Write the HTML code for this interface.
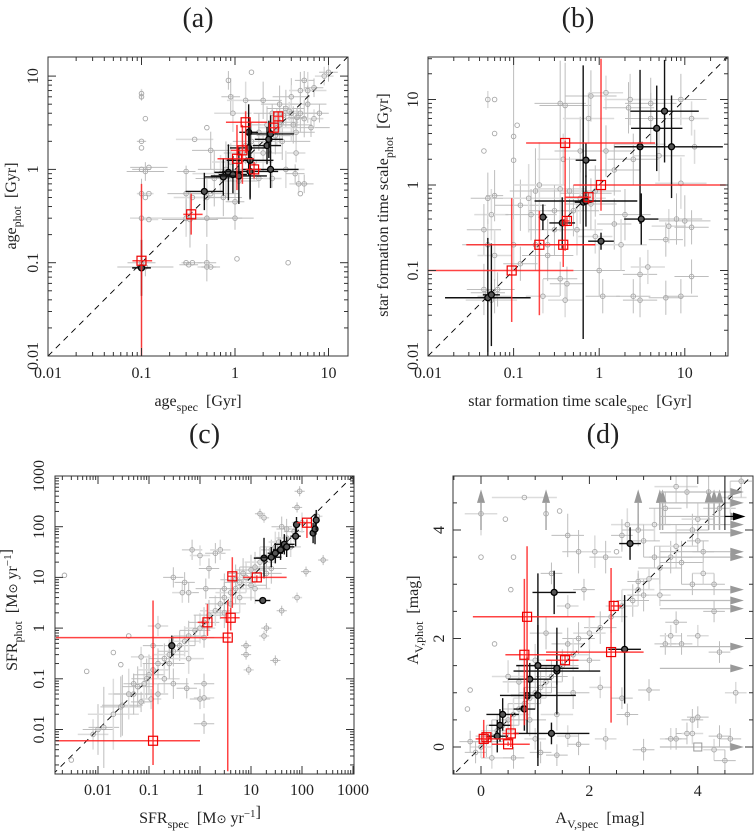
<!DOCTYPE html>
<html><head><meta charset="utf-8"><style>
body{margin:0;background:#fff}
svg{display:block;font-family:"Liberation Serif",serif}
</style></head><body>
<svg id="fig" width="754" height="835" viewBox="0 0 754 835" xmlns="http://www.w3.org/2000/svg"></svg>
<script>
// ---------- DATA ----------
const aGray=[[0.1,6.5,0,0.05],[0.1,6,0,0.04],[0.1,2,0.05,0],[0.1,1.7,0,0],[0.1,1,0.1,0],[0.11,0.95,0.2,0.1],[0.1,0.55,0.05,0],[0.11,0.5,0,0],[0.1,0.3,0.1,0.1],[0.12,0.29,0.1,0],[0.1,0.1,0.15,0.9],[0.11,0.09,0.3,0.1],[0.12,0.55,0.05,0],[0.11,3.5,0,0],[0.12,1.05,0.2,0],[0.3,0.1,0.05,0],[0.32,0.095,0.1,0],[0.35,0.1,0.1,0],[0.3,0.3,0.6,0.2],[0.33,0.29,0.3,0.3],[0.3,0.55,0.2,0.3],[0.35,0.5,0.2,0],[0.3,0.95,0.1,0],[0.5,0.1,0.1,0.2],[0.5,0.09,0.1,0],[0.55,0.09,0.1,0],[0.5,0.3,0.2,0.2],[0.5,0.5,0.2,0.2],[0.55,0.55,0.3,0],[0.5,2.8,0,0],[0.37,2.1,0.2,0],[0.55,1.6,0.2,0.2],[0.6,0.8,0.2,0.3],[0.7,0.9,0.3,0.2],[0.8,1,0.3,0.3],[0.75,0.5,0.2,0.2],[0.9,1.2,0.2,0.2],[0.85,9,0,0.1],[0.9,6,0.1,0.2],[0.95,4,0.2,0.2],[1,0.45,0.1,0.3],[1,0.3,0.2,0],[1.05,0.11,0,0],[1.1,0.75,0.2,0.2],[1.2,1.5,0.2,0.2],[1.3,5.5,0.2,0.2],[1.5,11,0,0],[1.5,2,0.2,0.2],[1.6,1.2,0.2,0.2],[1.8,0.8,0.2,0.1],[2,5.5,0.2,0.2],[2,1.5,0.2,0.2],[2.2,3,0.2,0.2],[2.5,4,0.2,0.1],[2.5,0.8,0.1,0.1],[2.7,2.3,0.2,0.2],[3,5,0.2,0.2],[3,3,0.2,0.2],[3.2,2,0.3,0.2],[3.5,4.5,0.2,0.2],[3.5,1,0.2,0.2],[3.7,0.1,0,0],[4,6,0.2,0.2],[4,4,0.2,0.3],[4.2,3,0.2,0.2],[4.5,2.5,0.2,0.2],[4.5,1.5,0.1,0.1],[5,7,0.1,0.2],[5,4,0.2,0.2],[5,0.55,0,0],[5.5,9,0.1,0.1],[5.5,3.5,0.2,0.2],[6,7,0.2,0.2],[6,5,0.2,0.2],[6.5,2.8,0.2,0.1],[7,3.5,0.1,0.1],[7,7.5,0.1,0.1],[8,4,0.1,0.1],[9,10,0.1,0.1],[10,11,0.1,0.1],[3,3.2,0.2,0.2],[2.8,2.8,0.2,0.2],[1.8,2.5,0.2,0.2],[1.3,1.8,0.2,0.2],[4.8,0.7,0.1,0.1],[4.4,0.9,0.1,0.1],[5.5,0.7,0.1,0.1],[3.8,4.2,0.1,0.1],[4.6,3.6,0.1,0.1],[3.3,3.8,0.1,0.1]];
const aBlack=[[0.1,0.088,0.1,0.3],[0.47,0.58,0.2,0.2],[0.75,0.83,0.2,0.2],[0.85,0.93,0.15,0.3],[0.95,0.88,0.15,0.2],[1.1,0.85,0.3,0.3],[1.4,2.5,0.1,0.3],[1.4,1.7,0.2,0.3],[1.45,1.25,0.25,0.4],[1.45,0.95,0.3,0.3],[2.2,1.8,0.15,0.2],[2.3,2.1,0.15,0.2],[2.4,2.4,0.25,0.2],[2.4,1.0,0.3,0.2]];
const aRed=[[0.1,0.105,0.08,0.13,0.01,0.7],[0.34,0.33,0.28,0.45,0.2,0.55],[1.05,1.3,0.65,1.6,0.6,3],[1.2,1.6,0.9,1.4,0.7,3],[1.3,3.2,0.8,2.2,1.5,4.2],[1.6,1,1.3,1.9,0.8,1.2],[2.6,2.8,2.3,3,2.4,3.3],[2.9,3.7,2.6,3.2,3.2,4.2]];

const bGray=[[0.05,10,0,0.1],[0.06,10,0,0],[0.06,4,0,0],[0.045,2.5,0,0],[0.1,3.7,0,1],[0.1,1.95,0,0],[0.11,5,0,0],[0.05,0.7,0.2,0.3],[0.06,0.75,0.1,0.3],[0.055,0.45,0.2,0.3],[0.045,0.3,0.2,0.3],[0.05,0.2,0.3,0.3],[0.06,0.15,0.2,0.3],[0.045,0.06,0.2,0.3],[0.05,0.055,0.2,0.3],[0.055,0.045,0.3,0.2],[0.06,0.05,0.2,0.2],[0.065,0.06,0.2,0.2],[0.1,0.2,0.3,0.3],[0.12,0.58,0.3,0.3],[0.12,0.12,0.2,0.2],[0.15,0.7,0.3,0.4],[0.16,0.45,0.3,0.3],[0.18,0.85,0.3,0.5],[0.2,1,0.3,0.5],[0.18,0.2,0.3,0.3],[0.25,0.15,0.3,0.3],[0.22,0.05,0.2,0.2],[0.25,0.2,0.3,0.3],[0.3,0.5,0.3,0.3],[0.35,0.9,0.3,0.5],[0.35,9,0.3,0.5],[0.4,8.5,0.3,0.5],[0.38,2,0.3,0.3],[0.35,0.08,0.2,0.2],[0.42,0.07,0.2,0.2],[0.4,0.045,0.2,0.2],[0.45,0.85,0.3,0.4],[0.5,0.5,0.3,0.3],[0.55,0.3,0.3,0.3],[0.6,2.5,0.3,0.4],[0.7,0.8,0.3,0.3],[0.75,6,0.3,0.3],[0.8,11,0.3,0.3],[0.9,0.85,0.3,0.3],[0.9,0.25,0.2,0.2],[1,0.1,0.3,0.3],[1.1,0.05,0.2,0.2],[1.2,12,0.2,0.2],[1.2,2.5,0.3,0.3],[1.5,0.35,0.2,0.3],[1.8,0.2,0.3,0.3],[2,0.45,0.3,0.3],[2.2,8,0.3,0.3],[2.3,10,0.3,0.3],[2.5,2,0.3,0.3],[2.5,0.05,0.2,0.2],[3,3,0.3,0.3],[3,0.09,0.2,0.2],[3,0.045,0.2,0.2],[3.7,0.11,0.2,0.2],[4,9,0.3,0.3],[4,6,0.3,0.3],[5,2.2,0.3,0.3],[6,0.23,0.2,0.2],[6,0.048,0.2,0.2],[6.5,0.33,0.2,0.2],[8,0.4,0.3,0.3],[9,10,0.3,0.3],[9,1.05,0.3,0.3],[9,0.05,0.2,0.2],[10,0.38,0.3,0.3],[12,6,0.2,0.2],[12,0.32,0.2,0.2],[12,0.085,0.2,0.2],[13,2.8,0.2,0.2],[1.5,1.5,0.3,0.3],[0.8,0.6,0.3,0.3],[0.6,0.7,0.3,0.3],[0.3,0.3,0.3,0.3]];
const bBlack=[[0.05,0.048,0.5,0.7],[0.055,0.052,0.1,0.6],[0.22,0.42,0.05,0.15],[0.37,0.36,0.15,0.3],[0.65,0.63,0.1,1.6],[0.7,0.65,0.6,0.3],[0.7,1.95,0.12,0.2],[1.05,0.22,0.15,0.1],[3,2.8,0.3,0.9],[3.1,0.4,0.2,0.3],[4.7,4.6,0.3,0.5],[5.8,7.3,0.4,0.6],[7,2.8,0.6,0.6]];
const bRed=[[0.095,0.1,0.01,0.5,0.025,0.7],[0.2,0.2,0.028,0.9,0.03,0.5],[0.38,0.2,0.2,0.9,0.11,0.2],[0.4,3.1,0.14,4.5,0.17,3.3],[0.42,0.38,0.38,0.45,0.33,0.42],[0.75,0.72,0.4,0.8,0.6,0.8],[1.05,1.0,0.5,30,0.5,30]];

const cGray=[[0.0022,11,0,0],[0.006,0.14,0,0],[0.02,0.33,0,0],[0.028,0.19,0,0],[0.04,0.7,0,0],[0.003,0.0025,0,0],[0.008,0.008,0.3,0.3],[0.01,0.01,0.3,0.5],[0.013,0.011,0.3,0.8],[0.02,0.02,0.5,0.7],[0.028,0.028,0.4,0.6],[0.03,0.03,0.4,0.6],[0.04,0.05,0.4,0.5],[0.05,0.05,0.4,0.4],[0.06,0.07,0.3,0.4],[0.08,0.08,0.3,0.4],[0.09,0.1,0.3,0.4],[0.1,0.12,0.3,0.4],[0.12,0.15,0.3,0.3],[0.15,0.2,0.3,0.3],[0.2,0.25,0.3,0.3],[0.25,0.3,0.3,0.3],[0.3,0.35,0.3,0.3],[0.4,0.45,0.3,0.3],[0.5,0.55,0.3,0.3],[0.6,0.7,0.3,0.3],[0.8,0.9,0.3,0.3],[1,1,0.3,0.3],[1.2,1.3,0.3,0.3],[1.5,1.8,0.3,0.3],[2,2.2,0.3,0.3],[2.5,3,0.3,0.3],[3,4,0.3,0.3],[4,5,0.3,0.3],[5,6,0.3,0.3],[6,8,0.3,0.3],[8,10,0.3,0.3],[10,14,0.3,0.3],[12,16,0.3,0.3],[15,20,0.3,0.3],[20,25,0.2,0.2],[25,35,0.2,0.2],[35,50,0.2,0.2],[50,60,0.2,0.2],[70,80,0.2,0.2],[100,120,0.2,0.2],[80,240,0.1,0.1],[90,500,0.1,0.1],[200,160,0.1,0.1],[260,22,0.1,0.1],[120,13,0.1,0.1],[80,4,0.1,0.1],[40,2.2,0.1,0.1],[20,1,0.1,0.1],[18,0.7,0.1,0.1],[8,0.45,0.1,0.1],[8,0.3,0.1,0.1],[9,0.15,0.1,0.1],[30,0.23,0.1,0.1],[15,180,0.1,0.1],[18,150,0.1,0.1],[0.7,35,0.2,0.2],[2,30,0.2,0.2],[2.5,35,0.2,0.2],[0.6,5,0.2,0.2],[0.3,10,0.2,0.2],[0.45,5,0.2,0.2],[1.3,6,0.2,0.2],[1.5,15,0.2,0.2],[1,27,0.2,0.2],[0.5,8,0.2,0.2],[1.2,0.65,0.2,0.2],[0.15,1.1,0.2,0.2],[1,0.04,0.2,0.2],[1.2,0.08,0.2,0.2],[1.2,0.042,0.2,0.2],[1.2,0.013,0.2,0.2],[0.55,0.065,0.2,0.2],[0.11,0.04,0.2,0.2],[0.07,0.035,0.2,0.2],[0.05,0.08,0.2,0.2],[0.07,0.27,0.2,0.2],[0.12,0.45,0.2,0.2],[0.15,0.05,0.2,0.2],[0.2,0.1,0.3,0.3],[0.25,0.2,0.3,0.3],[0.3,0.08,0.3,0.3],[0.6,0.25,0.3,0.3],[3,2,0.3,0.3],[4,3,0.3,0.3],[6,4,0.3,0.3],[7,12,0.3,0.3],[10,7,0.3,0.3],[12,6,0.3,0.3],[20,12,0.3,0.3],[25,15,0.3,0.3],[30,40,0.3,0.3],[40,100,0.2,0.2],[50,90,0.2,0.2],[60,40,0.2,0.2],[5,9,0.3,0.3],[3,6,0.3,0.3]];
const cBlack=[[0.28,0.45,0,0.2],[17,3.5,0.15,0],[18,24,0.2,0.4],[25,25,0.2,0.2],[30,30,0.15,0.2],[38,35,0.15,0.2],[45,45,0.2,0.2],[50,40,0.15,0.2],[75,65,0.1,0.2],[78,110,0.05,0.15],[165,75,0.05,0.2],[180,90,0.05,0.3],[190,135,0.05,0.2]];
const cRed=[[0.12,0.006,0.0015,1,0.002,3.5],[1.4,1.3,0.9,1.5,0.7,3],[3.5,0.65,0.0015,4,0.0015,3.5],[4,1.6,2.5,6,0.9,2.5],[4.3,10.5,3.5,5,2.5,25],[13,10,7,50,8,11],[125,120,80,150,60,140]];

const dGray=[[0,4.3,0.3,0.4],[0,3.5,0,0],[0.45,4.2,0,0],[0.8,4.6,0.6,0],[1.2,4.3,0,0],[1.45,4.35,0,0],[0.6,3.5,0,0],[1.6,3.9,0.3,0.4],[1.8,3.6,0.3,0.4],[2.1,3.6,0.3,0.3],[2.3,3.5,0.3,0.3],[2.5,3.6,0,0],[2.7,4.1,0.3,0.3],[2.6,3.9,0.2,0.3],[2.9,4.0,0.3,0.3],[3.2,4.1,0.3,0.3],[3.0,3.8,0.3,0.3],[3.4,4.4,0.3,0.3],[3.6,4.8,0.4,0.3],[3.8,4.7,0.3,0.3],[3.9,4.0,0.3,0.3],[4.0,4.2,0.3,0.3],[4.2,4.7,0.3,0.3],[4.4,4.4,0.3,0.3],[4.6,4.6,0.3,0.3],[4.8,4.9,0.2,0.3],[3.5,3.5,0.4,0.3],[3.6,3.7,0.4,0.4],[3.3,3.3,0.4,0.4],[3.7,3.4,0.4,0.4],[4.1,3.2,0.2,0.2],[4.3,3.0,0.2,0.2],[3.9,3.0,0.2,0.2],[2.9,2.9,0.3,0.3],[3.0,2.8,0.3,0.3],[2.8,2.7,0.3,0.3],[2.6,2.6,0.3,0.3],[2.4,2.4,0.3,0.3],[2.2,2.2,0.3,0.3],[2.0,2.1,0.3,0.3],[1.8,2.0,0.3,0.3],[1.6,1.9,0.3,0.3],[1.7,1.7,0.3,0.3],[1.5,1.5,0.3,0.3],[1.3,1.3,0.3,0.3],[1.2,1.2,0.3,0.3],[1.1,1.1,0.3,0.3],[1.0,1.0,0.3,0.3],[0.9,0.9,0.3,0.3],[0.8,0.8,0.3,0.3],[0.7,0.7,0.3,0.3],[0.6,0.6,0.3,0.3],[0.5,0.5,0.3,0.3],[0.4,0.4,0.3,0.3],[0.3,0.3,0.3,0.3],[0.2,0.2,0.3,0.3],[0.1,0.1,0.3,0.3],[0,0,0.2,0.2],[-0.1,-0.1,0.2,0.2],[-0.2,0.1,0.2,0.2],[0.2,-0.2,0.2,0.2],[-0.25,0.7,0,0],[-0.2,1.05,0,0],[0.25,1.9,0,0],[0.55,2.9,0,0],[1.3,3.2,0.2,0.2],[1.6,2.6,0.2,0.2],[1.9,2.9,0.2,0.2],[2.0,1.6,0.2,0.2],[2.2,1.1,0.2,0.2],[2.6,0.9,0.2,0.2],[2.7,0.6,0.2,0.2],[2.3,0.15,0.2,0.2],[3.1,1.05,0.2,0.2],[3.4,1.9,0.2,0.2],[3.5,2.05,0.2,0.2],[3.7,1.9,0.2,0.2],[3.6,2.3,0.2,0.2],[4.0,2.05,0.2,0.2],[4.3,2.5,0.2,0.2],[4.4,1.75,0.2,0.2],[4.7,1.0,0.2,0.2],[4.0,0.55,0.2,0.2],[3.9,0.5,0.2,0.2],[3.5,0.15,0.2,0.2],[3.6,0.15,0.2,0.2],[3.8,0.25,0.2,0.2],[3.9,0.25,0.2,0.2],[4.4,0.2,0.2,0.2],[4.6,0.15,0.2,0.2],[4.3,-0.05,0.2,0.2],[4.5,-0.25,0.2,0.2],[3.0,-0.05,0.2,0.2],[1.0,0.15,0.2,0.2],[1.1,-0.1,0.2,0.2],[1.4,-0.15,0.2,0.2],[1.6,0.2,0.2,0.2],[1.8,0.05,0.2,0.2],[0.6,-0.2,0.2,0.2],[1.0,1.6,0.3,0.3],[0.7,1.2,0.3,0.3],[1.2,2.1,0.3,0.3],[1.4,0.6,0.3,0.3],[1.7,1.0,0.3,0.3],[0.9,0.5,0.3,0.3],[0.5,1.3,0.3,0.3],[2.9,3.05,0.2,0.2],[3.2,3.5,0.2,0.2],[3.1,3.1,0.2,0.2],[4.1,3.6,0.2,0.2],[4.0,3.8,0.2,0.2],[3.3,2.8,0.2,0.2]];
const dBlack=[[0.3,0.2,0.2,0.3],[0.35,0.4,0.2,0.3],[0.4,0.6,0.3,0.3],[0.8,0.7,0.2,0.4],[0.85,0.95,0.3,0.7],[0.9,1.25,0.4,0.3],[1.05,0.95,0.7,1.3],[1.05,1.5,0.4,1.7],[1.3,0.25,0.7,0.2],[1.35,2.85,0.4,0.4],[1.4,1.4,0.8,0.8],[1.4,1.45,0.4,0.3],[2.65,1.8,0.3,1.0],[2.75,3.75,0.2,0.3]];
const dRed=[[0.05,0.15,-0.1,0.6,-0.2,0.5],[0.1,0.18,0.1,0.2,0.1,0.25],[0.5,0.05,0.2,0.9,0.02,0.1],[0.55,0.25,0.4,0.7,0.0,0.6],[0.8,1.7,0.45,1.7,0.4,3.1],[0.85,2.4,-0.15,2.1,0.5,3.7],[1.55,1.6,1.2,1.8,1.5,1.7],[2.4,1.75,1.2,3.0,0.45,3.3],[2.45,2.6,2.4,2.6,2.5,2.7]];
const dUpArrowsX=[0,1.2,2.9,3.3,3.35,4.2,4.3,4.4];
const dRightArrowsY=[4.7,4.5,4.25,4.1,3.95,3.6,3.5,2.9,2.7,2.55,1.85,1.45,0];

// ---------- RENDER ----------
const S='http://www.w3.org/2000/svg';
const svg=document.getElementById('fig');
function mk(t,a,p){const e=document.createElementNS(S,t);for(const k in a)e.setAttribute(k,a[k]);(p||svg).appendChild(e);return e;}
function logAx(p0,pPerDec,v0){return v=>p0+(Math.log10(v)-Math.log10(v0))*pPerDec;}
function linAx(p0,pPer){return v=>p0+v*pPer;}

function panel(cfg){
  const g=mk('g',{});
  
  
  const {X,Y,x0,x1,y0,y1}=cfg;
  const cp=mk('clipPath',{id:cfg.name+'-clip'},g);
  mk('rect',{x:x0,y:y1,width:x1-x0,height:y0-y1},cp);
  const pl=mk('g',{'clip-path':'url(#'+cfg.name+'-clip)'},g);
  const err=(v,e,lg)=>lg?[v/Math.pow(10,e),v*Math.pow(10,e)]:[v-e,v+e];
  cfg.gray.forEach((d,i)=>{
    const col=i%3==0?'#dcdcdc':'#bdbdbd';
    const w=i%3==0?1.5:1;
    const [xl,xh]=err(d[0],d[2],cfg.log),[yl,yh]=err(d[1],d[3],cfg.log);
    if(d[2]>0)mk('line',{x1:X(xl),x2:X(xh),y1:Y(d[1]),y2:Y(d[1]),stroke:col,'stroke-width':w},pl);
    if(d[3]>0)mk('line',{x1:X(d[0]),x2:X(d[0]),y1:Y(yl),y2:Y(yh),stroke:col,'stroke-width':w},pl);
  });
  const diag=mk('line',{x1:X(cfg.diag[0]),y1:Y(cfg.diag[0]),x2:X(cfg.diag[1]),y2:Y(cfg.diag[1]),stroke:'#000','stroke-width':0.9,'stroke-dasharray':'6,5'},pl);
  
  
  cfg.gray.forEach(d=>{
    const c=mk('circle',{cx:X(d[0]),cy:Y(d[1]),r:2.3,fill:'none',stroke:'#a8a8a8','stroke-width':0.9},pl);
    
    
  });
  if(cfg.extra)cfg.extra(pl);
  cfg.black.forEach(d=>{
    const [xl,xh]=err(d[0],d[2],cfg.log),[yl,yh]=err(d[1],d[3],cfg.log);
    mk('line',{x1:X(xl),x2:X(xh),y1:Y(d[1]),y2:Y(d[1]),stroke:'#111','stroke-width':1.4},pl);
    mk('line',{x1:X(d[0]),x2:X(d[0]),y1:Y(yl),y2:Y(yh),stroke:'#111','stroke-width':1.4},pl);
    const c=mk('circle',{cx:X(d[0]),cy:Y(d[1]),r:3,fill:'#555',stroke:'#000','stroke-width':1.3},pl);
    
    
  });
  cfg.red.forEach(d=>{
    mk('line',{x1:X(d[2]),x2:X(d[3]),y1:Y(d[1]),y2:Y(d[1]),stroke:'#f22','stroke-width':1.5,'stroke-opacity':0.85},pl);
    mk('line',{x1:X(d[0]),x2:X(d[0]),y1:Y(d[4]),y2:Y(d[5]),stroke:'#f22','stroke-width':1.5,'stroke-opacity':0.85},pl);
    const r=mk('rect',{x:X(d[0])-4.5,y:Y(d[1])-4.5,width:9,height:9,fill:'none',stroke:'#e00','stroke-width':1.2},pl);
    
    
  });
  const fr=mk('rect',{x:x0,y:y1,width:x1-x0,height:y0-y1,fill:'none',stroke:'#333','stroke-width':1},g);
  
  
  const tk=(xa,isX,len)=>{
    if(isX){mk('line',{x1:xa,x2:xa,y1:y0,y2:y0-len,stroke:'#333'},g);mk('line',{x1:xa,x2:xa,y1:y1,y2:y1+len,stroke:'#333'},g);}
    else{mk('line',{y1:xa,y2:xa,x1:x0,x2:x0+len,stroke:'#333'},g);mk('line',{y1:xa,y2:xa,x1:x1,x2:x1-len,stroke:'#333'},g);}
  };
  cfg.xminor.forEach(v=>{const p=X(v);if(p>=x0&&p<=x1)tk(p,true,4);});
  cfg.yminor.forEach(v=>{const p=Y(v);if(p>=y1&&p<=y0)tk(p,false,4);});
  cfg.xmajor.forEach((v,i)=>{const p=X(v);tk(p,true,8);
    const t=mk('text',{x:p,y:cfg.xly,'text-anchor':'middle','font-size':16,fill:'#222'},g);t.textContent=cfg.xlab[i];
    
    });
  cfg.ymajor.forEach((v,i)=>{const p=Y(v);tk(p,false,8);
    const t=mk('text',{x:cfg.ylx,y:p,'text-anchor':'middle','font-size':16,fill:'#222',transform:`rotate(-90 ${cfg.ylx} ${p})`},g);t.textContent=cfg.ylab[i];
    
    });
  const tt=mk('text',{x:(x0+x1)/2,y:cfg.ty,'text-anchor':'middle','font-size':28,fill:'#222'},g);tt.textContent=cfg.title;
  
  
  const xt=mk('text',{x:cfg.xtx,y:cfg.xty,'text-anchor':'middle','font-size':16,fill:'#222'},g);xt.innerHTML=cfg.xtitle;
  
  
  const yt=mk('text',{x:cfg.ytx,y:cfg.yty,'text-anchor':'middle','font-size':16,fill:'#222',transform:`rotate(-90 ${cfg.ytx} ${cfg.yty})`},g);yt.innerHTML=cfg.ytitle;
  
  
}
function minors(a,b){const r=[];for(let e=a;e<=b;e++)for(let m=2;m<=9;m++)r.push(m*Math.pow(10,e));return r;}
const sub=(s)=>`<tspan font-size="12" dy="5">${s}</tspan><tspan dy="-5">&#160;&#160;</tspan>`;
const sup=(s)=>`<tspan font-size="11" dy="-6">${s}</tspan><tspan dy="6"></tspan>`;

panel({name:'panel-a',x0:48,x1:348,y0:356,y1:57,log:true,
  X:logAx(48,93.5,0.01),Y:v=>356-(Math.log10(v)+2)*93.3,diag:[0.01,20],
  gray:aGray,black:aBlack,red:aRed,
  xminor:minors(-2,1),yminor:minors(-2,1),xmajor:[0.01,0.1,1,10],xlab:['0.01','0.1','1','10'],
  ymajor:[0.01,0.1,1,10],ylab:['0.01','0.1','1','10'],xly:378,ylx:38,
  title:'(a)',ty:27,xtitle:'age'+sub('spec')+'[Gyr]',xtx:198,xty:406,ytitle:'age'+sub('phot')+'[Gyr]',ytx:16,yty:206});
panel({name:'panel-b',x0:428,x1:728,y0:356,y1:57,log:true,
  X:logAx(428,85.6,0.01),Y:v=>356-(Math.log10(v)+2)*85.5,diag:[0.01,40],
  gray:bGray,black:bBlack,red:bRed,
  xminor:minors(-2,1),yminor:minors(-2,1),xmajor:[0.01,0.1,1,10],xlab:['0.01','0.1','1','10'],
  ymajor:[0.01,0.1,1,10],ylab:['0.01','0.1','1','10'],xly:378,ylx:418,
  title:'(b)',ty:27,xtitle:'star formation time scale'+sub('spec')+'[Gyr]',xtx:580,xty:406,ytitle:'star formation time scale'+sub('phot')+'[Gyr]',ytx:388,yty:205});
panel({name:'panel-c',x0:55,x1:354,y0:774,y1:476,log:true,
  X:logAx(353,51,1000),Y:v=>476+(3-Math.log10(v))*50.7,diag:[0.0013,1200],
  gray:cGray,black:cBlack,red:cRed,
  xminor:minors(-3,2),yminor:minors(-3,2),xmajor:[0.01,0.1,1,10,100,1000],xlab:['0.01','0.1','1','10','100','1000'],
  ymajor:[0.01,0.1,1,10,100,1000],ylab:['0.01','0.1','1','10','100','1000'],xly:795,ylx:44,
  title:'(c)',ty:443,xtitle:'SFR'+sub('spec')+'[M<tspan font-size="12">⊙</tspan> yr'+sup('−1')+']',xtx:200,xty:823,ytitle:'SFR'+sub('phot')+'[M<tspan font-size="12">⊙</tspan> yr'+sup('−1')+']',ytx:17,yty:610});
panel({name:'panel-d',x0:453,x1:753,y0:774,y1:476,log:false,
  X:linAx(481,54.2),Y:v=>747-v*54.25,diag:[-0.6,5.1],
  gray:dGray,black:dBlack,red:dRed,
  extra:(pl)=>{
    const X=linAx(481,54.2),Y=v=>747-v*54.25;
    dUpArrowsX.forEach(x=>{mk('line',{x1:X(x),x2:X(x),y1:Y(4.0),y2:Y(4.5),stroke:'#aaa','stroke-width':1.5},pl);
      const a=mk('polygon',{points:`${X(x)},${Y(4.75)} ${X(x)-4},${Y(4.5)} ${X(x)+4},${Y(4.5)}`,fill:'#999'},pl);
      
      });
    dRightArrowsY.forEach(y=>{mk('line',{x1:X(3.3),x2:X(4.6),y1:Y(y),y2:Y(y),stroke:'#bbb','stroke-width':1.2},pl);
      const a=mk('polygon',{points:`${X(4.85)},${Y(y)} ${X(4.6)},${Y(y)-4} ${X(4.6)},${Y(y)+4}`,fill:'#999'},pl);
      
      });
    mk('line',{x1:X(4.5),x2:X(4.5),y1:Y(5),y2:Y(4.0),stroke:'#000','stroke-width':1},pl);
    mk('line',{x1:X(4.5),x2:X(4.7),y1:Y(4.25),y2:Y(4.25),stroke:'#000','stroke-width':1.2},pl);
    const b=mk('polygon',{points:`${X(4.88)},${Y(4.25)} ${X(4.65)},${Y(4.25)-4} ${X(4.65)},${Y(4.25)+4}`,fill:'#000'},pl);
    
    
    mk('rect',{x:X(4.0)-4,y:Y(0)-4,width:8,height:8,fill:'none',stroke:'#999'},pl);
  },
  xminor:[-0.5,0.5,1,1.5,2.5,3,3.5,4.5],yminor:[-0.5,0.5,1,1.5,2.5,3,3.5,4.5],xmajor:[0,2,4],xlab:['0','2','4'],
  ymajor:[0,2,4],ylab:['0','2','4'],xly:796,ylx:444,
  title:'(d)',ty:443,xtitle:'A'+sub('V,spec')+'[mag]',xtx:600,xty:823,ytitle:'A'+sub('V,phot')+'[mag]',ytx:418,yty:620});
</script>
</body></html>
